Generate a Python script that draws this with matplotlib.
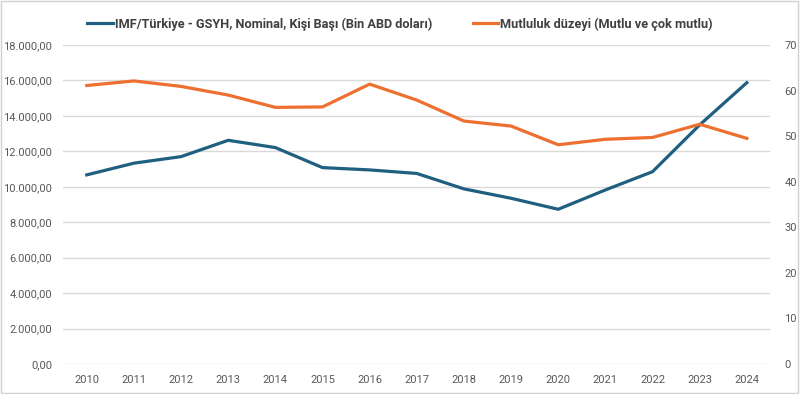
import matplotlib.pyplot as plt
from matplotlib.ticker import FuncFormatter, MultipleLocator
from matplotlib.patches import Rectangle

years = list(range(2010, 2025))
gdp = [10670, 11330, 11700, 12620, 12210, 11080, 10950, 10750,
       9880, 9350, 8730, 9820, 10850, 13490, 15870]
happy = [61.1, 62.1, 60.9, 59.0, 56.3, 56.4, 61.4, 57.9,
         53.3, 52.2, 48.1, 49.3, 49.7, 52.6, 49.5]

gdp_label = "IMF/Türkiye - GSYH, Nominal, Kişi Başı (Bin ABD doları)"
happy_label = "Mutluluk düzeyi (Mutlu ve çok mutlu)"

blue = "#1f5f80"
orange = "#ed7030"
tick_color = "#595959"

plt.rcParams['font.family'] = ['Roboto', 'DejaVu Sans']

fig = plt.figure(figsize=(8, 3.94), dpi=100)
ax = fig.add_axes([0.079, 0.076, 0.884, 0.81])
ax2 = ax.twinx()

l1, = ax.plot(years, gdp, color=blue, lw=2.3, label=gdp_label)
l2, = ax2.plot(years, happy, color=orange, lw=2.3, label=happy_label)

ax.set_ylim(0, 18000)
ax2.set_ylim(0, 70)
ax.yaxis.set_major_locator(MultipleLocator(2000))
ax2.yaxis.set_major_locator(MultipleLocator(10))
ax.set_xlim(2009.5, 2024.5)
ax.set_xticks(years)


def tr_fmt(v, pos):
    s = "{:,.2f}".format(v)
    return s.replace(",", "X").replace(".", ",").replace("X", ".")


ax.yaxis.set_major_formatter(FuncFormatter(tr_fmt))
ax.grid(axis='y', color='#d9d9d9', lw=1)
ax.set_axisbelow(True)
for a in (ax, ax2):
    for s in a.spines.values():
        s.set_visible(False)
    a.tick_params(length=0, labelsize=8, colors=tick_color)
ax.tick_params(axis='y', pad=8)
ax2.tick_params(axis='y', pad=10)
ax.tick_params(axis='x', pad=8)

fig.legend(handles=[l1, l2], loc='upper center', bbox_to_anchor=(0.5, 0.985),
           ncol=2, frameon=False, prop={'weight': 'bold', 'size': 9.2},
           handlelength=2.0, handletextpad=0.15, columnspacing=3.2,
           labelcolor='#404040')

fig.patches.append(Rectangle((0.001, 0.002), 0.997, 0.995, transform=fig.transFigure,
                             fill=False, edgecolor='#d0d0d0', lw=1))

fig.savefig("out.png", dpi=100)
